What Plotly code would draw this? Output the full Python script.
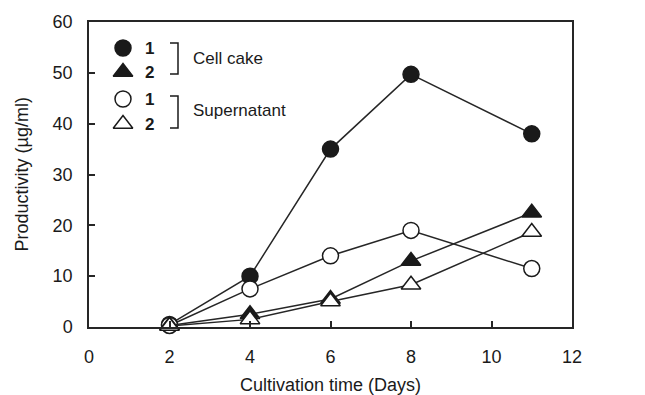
import plotly.graph_objects as go

days = [2, 4, 6, 8, 11]
cell_cake_1 = [0.5, 10.0, 35.0, 49.7, 38.0]
cell_cake_2 = [0.3, 2.5, 5.5, 13.0, 22.5]
supernatant_1 = [0.3, 7.5, 14.0, 19.0, 11.5]
supernatant_2 = [0.2, 1.5, 5.0, 8.3, 18.7]

x_ticks = [0, 2, 4, 6, 8, 10, 12]
y_ticks = [0, 10, 20, 30, 40, 50, 60]

FONT = "Liberation Sans, Arial, sans-serif"
LINE = "#262626"
INK = "#1a1a1a"

series = [
    (cell_cake_1, "circle", INK, 16),
    (cell_cake_2, "triangle-up", INK, 17),
    (supernatant_1, "circle", "white", 16),
    (supernatant_2, "triangle-up", "white", 17),
]

fig = go.Figure()
for vals, sym, fill, sz in [series[0], series[2], series[1], series[3]]:
    fig.add_trace(go.Scatter(
        x=days, y=vals, mode="lines+markers",
        line=dict(color=LINE, width=1.5),
        marker=dict(symbol=sym, size=sz, color=fill,
                    line=dict(color=INK, width=1.5)),
        showlegend=False, cliponaxis=False,
    ))

# Legend (overlay axis in page-pixel coords)
leg_y = [48, 72, 99, 124]
for (vals, sym, fill, sz), ly in zip(series, leg_y):
    fig.add_trace(go.Scatter(
        x=[123], y=[ly], mode="markers", xaxis="x2", yaxis="y2",
        marker=dict(symbol=sym, size=sz, color=fill, line=dict(color=INK, width=1.5)),
        showlegend=False, hoverinfo="skip",
    ))
labels = ["1", "2", "1", "2"]
annotations = []
for lab, ly in zip(labels, leg_y):
    annotations.append(dict(x=143, y=ly, xref="x2", yref="y2", text="<b>%s</b>" % lab,
                            showarrow=False, xanchor="left", yanchor="middle",
                            font=dict(family=FONT, size=17, color=INK)))
annotations.append(dict(x=191, y=58, xref="x2", yref="y2", text="Cell cake", showarrow=False,
                        xanchor="left", yanchor="middle", font=dict(family=FONT, size=17, color=INK)))
annotations.append(dict(x=191, y=110, xref="x2", yref="y2", text="Supernatant", showarrow=False,
                        xanchor="left", yanchor="middle", font=dict(family=FONT, size=17, color=INK)))

# Axis titles
annotations.append(dict(x=0.5, y=0, xref="paper", yref="paper", text="Cultivation time (Days)",
                        showarrow=False, xanchor="center", yanchor="middle", yshift=-58,
                        font=dict(family=FONT, size=18, color=INK)))
annotations.append(dict(x=0, y=0.5, xref="paper", yref="paper", text="Productivity (µg/ml)",
                        showarrow=False, xanchor="center", yanchor="middle", xshift=-68,
                        textangle=-90, font=dict(family=FONT, size=18, color=INK)))

shapes = []
for y0, y1 in [(43, 74), (96, 128)]:
    shapes.append(dict(type="path", xref="x2", yref="y2",
                       path="M 170 %d L 178 %d L 178 %d L 170 %d" % (y0, y0, y1, y1),
                       line=dict(color=INK, width=1.5)))

fig.update_layout(
    width=637, height=387,
    margin=dict(l=81, r=73, t=14, b=68, autoexpand=False),
    paper_bgcolor="white", plot_bgcolor="white",
    font=dict(family=FONT, size=18, color=INK),
    xaxis=dict(range=[0, 12], tickvals=x_ticks, ticks="inside", ticklen=6, tickwidth=1.5,
               tickcolor=LINE, showline=True, linecolor=LINE, linewidth=1.5, mirror=True,
               showgrid=False, zeroline=False, automargin=False, ticklabelstandoff=13),
    yaxis=dict(range=[0, 60], tickvals=y_ticks, ticks="inside", ticklen=6, tickwidth=1.5,
               tickcolor=LINE, showline=True, linecolor=LINE, linewidth=1.5, mirror=True,
               showgrid=False, zeroline=False, automargin=False, ticklabelstandoff=11),
    xaxis2=dict(range=[89, 572], overlaying="x", visible=False, fixedrange=True),
    yaxis2=dict(range=[327, 22], overlaying="y", visible=False, fixedrange=True),
    annotations=annotations, shapes=shapes,
)

fig.write_html("out.html")
